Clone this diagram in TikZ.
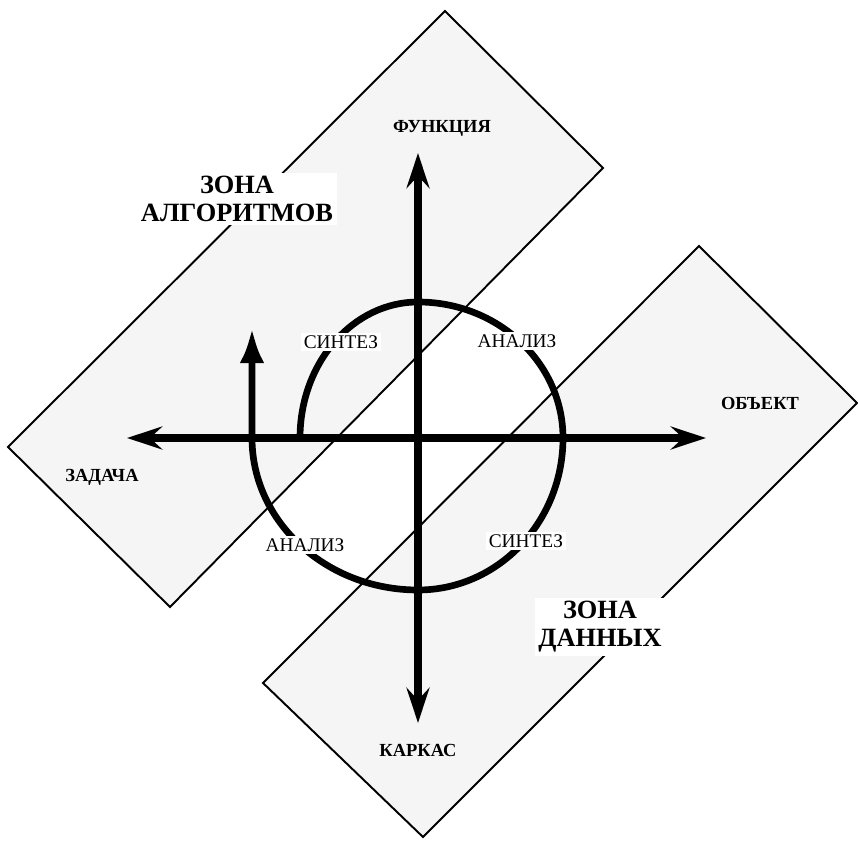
\documentclass[tikz,border=0pt]{standalone}
\usepackage{fontspec}
\setmainfont{Liberation Serif}
\usetikzlibrary{arrows.meta}

\begin{document}
\begin{tikzpicture}[x=0.02cm, y=0.02cm,
  zone/.style={draw=black, line width=1.1pt, fill=black!4},
  axistip/.tip={Stealth[length=20pt, width=13pt, inset=7pt]},
  axis/.style={line width=4.2pt, axistip-axistip},
  spiral/.style={line width=3.8pt, -{Latex[length=20pt, width=14pt]}},
  axislabel/.style={font=\fontsize{10.5}{12}\selectfont\bfseries, inner sep=0pt},
  steplabel/.style={font=\fontsize{11}{13}\selectfont, fill=white, inner sep=1.5pt},
  zonelabel/.style={font=\fontsize{15}{16}\selectfont\bfseries, align=center, fill=white, inner sep=2pt}]
  \useasboundingbox (0,0) rectangle (858,842);
  % draw the two zone strips
  \draw[zone] (445,831) -- (603,674) -- (170,235) -- (8,395) -- cycle;
  \draw[zone] (699,596) -- (857,439) -- (423,5) -- (263,159) -- cycle;
  % axis end points
  \coordinate (ax_task) at (127,404);
  \coordinate (ax_object) at (706,404);
  \coordinate (ax_func) at (418,689);
  \coordinate (ax_frame) at (418,119);
  \draw[axis] (ax_task) -- (ax_object);
  \draw[axis] (ax_frame) -- (ax_func);
  % draw the spiral from synthesis to the up arrow
  \coordinate (sp_start) at (300,404);
  \coordinate (sp_end) at (252,514);
  \draw[spiral] (sp_start)
    arc[start angle=180, end angle=90, x radius=118, y radius=136]
    arc[start angle=90, end angle=0, x radius=145, y radius=136]
    arc[start angle=0, end angle=-90, x radius=145, y radius=152]
    arc[start angle=-90, end angle=-180, x radius=166, y radius=152]
    -- (sp_end);
  % axis labels
  \node[axislabel] (lbl_func) at (442,714) {ФУНКЦИЯ};
  \node[axislabel] (lbl_object) at (760,439) {ОБЪЕКТ};
  \node[axislabel] (lbl_task) at (102,365) {ЗАДАЧА};
  \node[axislabel] (lbl_frame) at (418,92) {КАРКАС};
  % step labels along the spiral
  \node[steplabel] (lbl_syn1) at (341,500) {СИНТЕЗ};
  \node[steplabel] (lbl_an1) at (517,501) {АНАЛИЗ};
  \node[steplabel] (lbl_an2) at (305,297) {АНАЛИЗ};
  \node[steplabel] (lbl_syn2) at (526,301) {СИНТЕЗ};
  % zone titles
  \node[zonelabel] (lbl_zone_alg) at (237,643) {ЗОНА\\АЛГОРИТМОВ};
  \node[zonelabel] (lbl_zone_data) at (600,215) {ЗОНА\\ДАННЫХ};
\end{tikzpicture}
\end{document}
